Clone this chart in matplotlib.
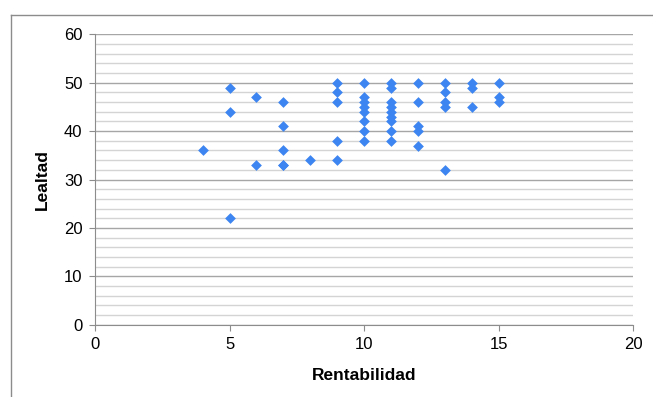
import matplotlib.pyplot as plt
from matplotlib.ticker import MultipleLocator
from matplotlib.lines import Line2D

# Rentabilidad vs Lealtad per respondent
rentabilidad = [4, 5, 5, 5, 6, 6, 7, 7, 7, 7, 7, 8,
                9, 9, 9, 9, 9,
                10, 10, 10, 10, 10, 10, 10, 10,
                11, 11, 11, 11, 11, 11, 11, 11, 11,
                12, 12, 12, 12, 12,
                13, 13, 13, 13, 13,
                14, 14, 14,
                15, 15, 15]
lealtad = [36, 49, 44, 22, 47, 33, 46, 41, 36, 33, 33, 34,
           50, 48, 46, 38, 34,
           50, 47, 46, 45, 44, 42, 40, 38,
           50, 49, 46, 45, 44, 43, 42, 40, 38,
           50, 46, 41, 40, 37,
           50, 48, 46, 45, 32,
           50, 49, 45,
           50, 47, 46]

plt.rcParams['font.family'] = ['Liberation Sans', 'DejaVu Sans']

fig = plt.figure(figsize=(6.53, 3.97), dpi=100)
ax = fig.add_axes([0.1455, 0.182, 0.824, 0.7316])

ax.scatter(rentabilidad, lealtad, marker='D', s=30, color='#3d85f0', linewidths=0, zorder=3)

ax.set_xlim(0, 20)
ax.set_ylim(0, 60)
ax.xaxis.set_major_locator(MultipleLocator(5))
ax.yaxis.set_major_locator(MultipleLocator(10))
ax.yaxis.set_minor_locator(MultipleLocator(2))

ax.grid(which='major', axis='y', color='#a6a6a6', linewidth=1)
ax.grid(which='minor', axis='y', color='#d4d4d4', linewidth=1)
ax.set_axisbelow(True)

for side in ['top', 'right']:
    ax.spines[side].set_visible(False)
for side in ['left', 'bottom']:
    ax.spines[side].set_color('#8c8c8c')

ax.tick_params(which='major', length=4, color='#8c8c8c', labelsize=12, pad=5)
ax.tick_params(which='minor', length=0)

ax.set_xlabel('Rentabilidad', fontsize=12.5, fontweight='bold', labelpad=11)
ax.set_ylabel('Lealtad', fontsize=12.5, fontweight='bold', labelpad=10)

# chart frame: top and left edges
fig.add_artist(Line2D([11 / 653, 1], [1 - 15 / 397, 1 - 15 / 397],
                      transform=fig.transFigure, color='#8c8c8c', linewidth=1))
fig.add_artist(Line2D([11 / 653, 11 / 653], [0, 1 - 15 / 397],
                      transform=fig.transFigure, color='#8c8c8c', linewidth=1))

fig.savefig('out.png', dpi=100)
